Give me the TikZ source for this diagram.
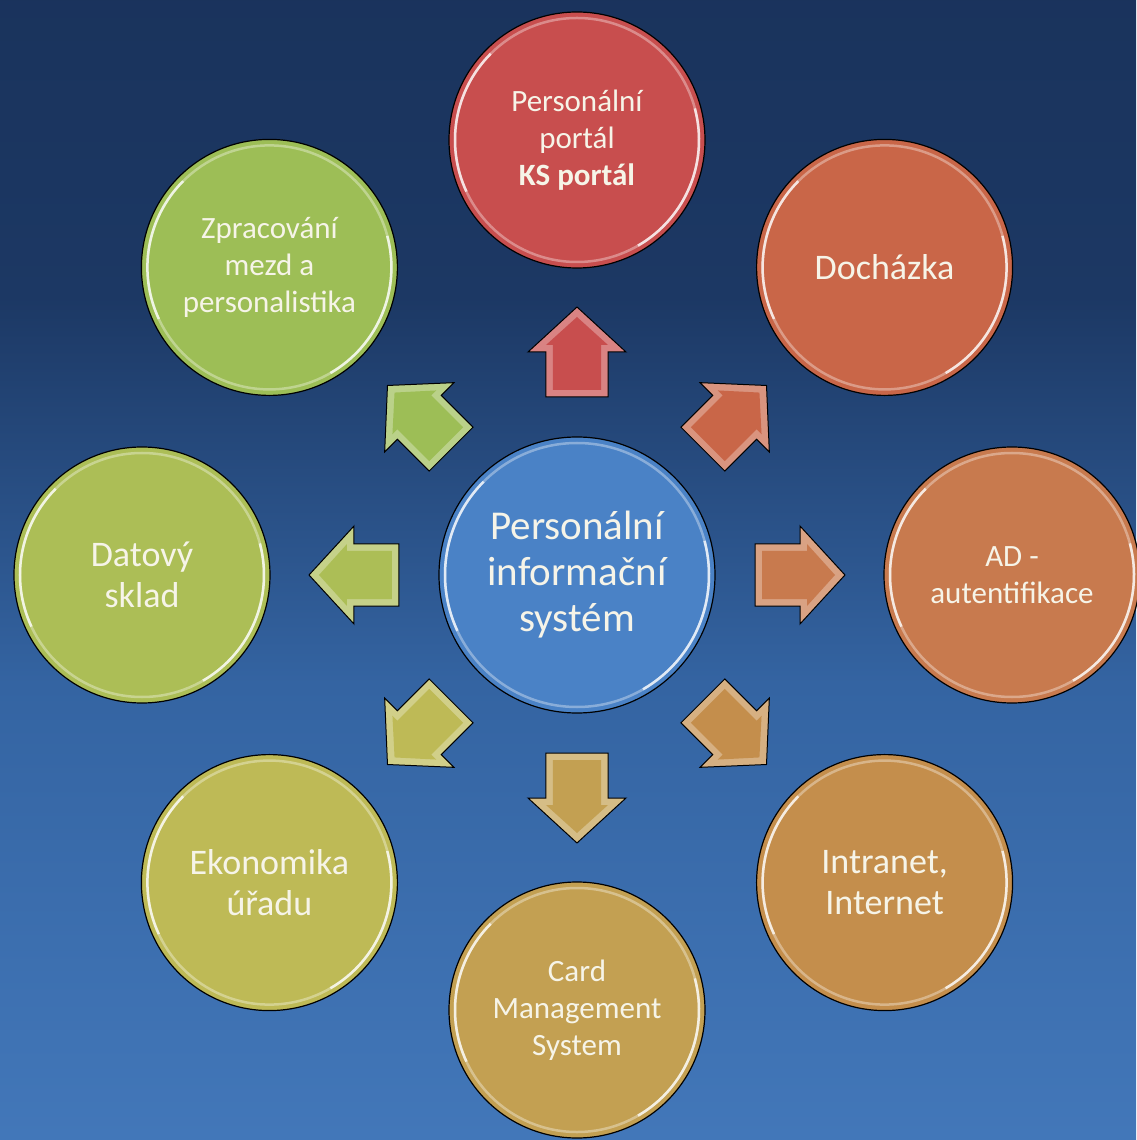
\documentclass[tikz,border=0pt]{standalone}
\usepackage{fontspec}
\setmainfont{Carlito}
\definecolor{bgtop}{RGB}{22,42,78}
\definecolor{bgmid}{RGB}{28,56,100}
\definecolor{bgmidb}{RGB}{52,100,162}
\definecolor{bgbot}{RGB}{84,143,214}
\definecolor{txt}{RGB}{246,244,232}
\definecolor{cRed}{RGB}{200,78,78}
\definecolor{cDoch}{RGB}{201,102,72}
\definecolor{cAD}{RGB}{200,122,78}
\definecolor{cInt}{RGB}{196,142,76}
\definecolor{cCard}{RGB}{195,160,82}
\definecolor{cEko}{RGB}{190,186,86}
\definecolor{cDat}{RGB}{172,190,86}
\definecolor{cZpr}{RGB}{157,190,86}
\definecolor{cCen}{RGB}{74,130,198}
\pgfdeclareverticalshading{bgshade}{100bp}{color(0bp)=(bgbot); color(45bp)=(bgmidb); color(62bp)=(bgmid); color(100bp)=(bgtop)}
\tikzset{
  bubble/.style={circle, minimum size=#1, inner sep=0pt, draw=black, line width=1.2pt,
    text=txt, align=center,
    path picture={
      \draw[white, opacity=.35, line width=2.5pt] (path picture bounding box.center) circle ({#1/2-6pt});
      \draw[white, opacity=.75, line width=2.5pt] ([shift={(135:{#1/2-6pt})}]path picture bounding box.center) arc (135:205:{#1/2-6pt});
      \draw[white, opacity=.75, line width=2.5pt] ([shift={(-60:{#1/2-6pt})}]path picture bounding box.center) arc (-60:15:{#1/2-6pt});
    }},
  outer/.style={bubble=256pt, fill=#1},
  small/.style={font=\fontsize{31}{37}\selectfont},
  big/.style={font=\fontsize{36}{41}\selectfont},
}
\newcommand\blockarrow[3]{%
  \begin{scope}[rotate=#1]
    \filldraw[fill=#2!70!white, draw=black, line width=1pt]
      (178,31) -- (223,31) -- (223,49) -- (268,0) -- (223,-49) -- (223,-31) -- (178,-31) -- cycle;
    \fill[#2] (185,24) -- (230,24) -- (230,31) -- (258,0) -- (230,-31) -- (230,-24) -- (185,-24) -- cycle;
    \coordinate (#3) at (223,0);
  \end{scope}}
\begin{document}
\begin{tikzpicture}[x=1pt, y=1pt]
  \useasboundingbox (-577,-565) rectangle (559,575);
  \shade[shading=bgshade] (-577,-565) rectangle (559,575);

  \node[bubble=276pt, fill=cCen, font=\fontsize{41}{46}\selectfont] (cen) at (0,0)
    {Personální\\informační\\systém};

  \node[outer=cRed, small]  (portal) at (90:435)  {Personální\\portál\\\textbf{KS portál}};
  \node[outer=cDoch, big]   (doch)   at (45:435)  {Docházka};
  \node[outer=cAD, small]   (ad)     at (0:435)   {AD -\\autentifikace};
  \node[outer=cInt, big]    (inet)   at (-45:435) {Intranet,\\Internet};
  \node[outer=cCard, small] (card)   at (-90:435) {Card\\Management\\System};
  \node[outer=cEko, big]    (eko)    at (-135:435) {Ekonomika\\úřadu};
  \node[outer=cDat, big]    (dat)    at (180:435) {Datový\\sklad};
  \node[outer=cZpr, small]  (zpr)    at (135:435) {Zpracování\\mezd a\\personalistika};

  \blockarrow{90}{cRed}{aportal}
  \blockarrow{45}{cDoch}{adoch}
  \blockarrow{0}{cAD}{aad}
  \blockarrow{-45}{cInt}{ainet}
  \blockarrow{-90}{cCard}{acard}
  \blockarrow{-135}{cEko}{aeko}
  \blockarrow{180}{cDat}{adat}
  \blockarrow{135}{cZpr}{azpr}
\end{tikzpicture}
\end{document}
